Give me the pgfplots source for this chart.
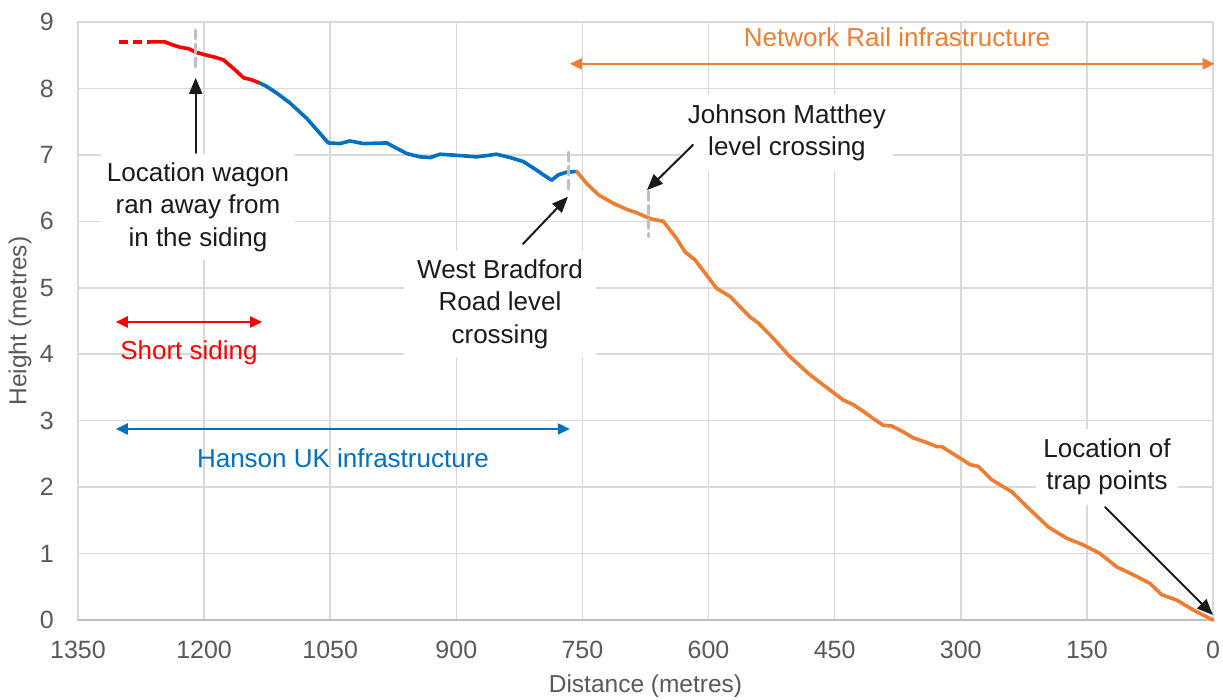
\documentclass[border=0pt]{standalone}
\usepackage{fontspec}
\setmainfont{Liberation Sans}
\usepackage{pgfplots}
\pgfplotsset{compat=1.18}
\usepackage{pgfplotstable}
\usetikzlibrary{arrows.meta}
\definecolor{cRed}{HTML}{FF0000}
\definecolor{cBlue}{HTML}{0070C0}
\definecolor{cOrange}{HTML}{ED7D31}
\definecolor{cGrid}{HTML}{D9D9D9}
\definecolor{cAxis}{HTML}{BFBFBF}
\definecolor{cTick}{HTML}{595959}
\definecolor{cDash}{HTML}{BFBFBF}
\definecolor{cText}{HTML}{1A1A1A}

\pgfplotstableread{
x y
1301 8.70
1264 8.70
}\reddashed
\pgfplotstableread{
x y
1264 8.70
1246.5 8.70
1238.6 8.66
1228.7 8.62
1218.8 8.60
1208.8 8.54
1197 8.50
1187 8.47
1177 8.43
1165 8.30
1153 8.16
1143.4 8.13
1133.5 8.08
}\redsolid
\pgfplotstableread{
x y
1133.5 8.08
1125.6 8.03
1113.6 7.93
1097.8 7.78
1078 7.55
1064 7.35
1052.3 7.18
1038.4 7.17
1026.5 7.21
1010.6 7.17
982.8 7.18
971 7.10
959 7.02
943 6.97
931 6.96
919.4 7.01
895.6 6.99
875.8 6.97
852 7.01
836 6.96
820.3 6.90
804.4 6.77
796.5 6.70
786.6 6.62
778.7 6.70
768.7 6.74
756.8 6.75
}\blue
\pgfplotstableread{
x y
756.8 6.75
745 6.57
731 6.40
713.2 6.27
695.4 6.17
685.4 6.13
669.6 6.04
653.8 6.00
637.9 5.74
628 5.54
616.1 5.42
602.3 5.19
590.3 4.99
574.5 4.87
550.7 4.56
540.8 4.47
523 4.24
503 3.96
479.3 3.69
455.5 3.46
439.7 3.31
427.8 3.24
415.9 3.14
404 3.03
392.1 2.93
382.1 2.92
368.3 2.83
356.4 2.74
342.5 2.68
328.6 2.61
322.7 2.61
308.9 2.50
289 2.34
279.1 2.31
263.2 2.11
239.4 1.93
217.6 1.66
195.9 1.40
174 1.23
154.2 1.13
134.4 1.00
114.6 0.80
94.7 0.68
74.9 0.55
61 0.38
43.2 0.30
23.4 0.15
0 0.0
}\orange

\newcommand\annfont{\fontsize{26bp}{32.5bp}\selectfont}

\begin{document}
\begin{tikzpicture}
\begin{axis}[
  name=ax,
  scale only axis,
  width=1135bp, height=598bp,
  xmin=0, xmax=1350, ymin=0, ymax=9,
  x dir=reverse,
  xtick={0,150,...,1350}, ytick={0,1,...,9},
  grid=major,
  major grid style={cGrid, line width=1.5bp},
  axis x line*=bottom, axis y line*=left,
  x axis line style={cAxis, line width=1.6bp},
  y axis line style={draw=none},
  tick style={draw=none},
  /pgf/number format/assume math mode=true,
  /pgf/number format/1000 sep={},
  tick label style={font=\fontsize{25bp}{29bp}\selectfont, text=cTick},
  xticklabel style={anchor=north, inner sep=0pt, yshift=-21bp},
  yticklabel style={anchor=east, inner sep=0pt, xshift=-24bp},
  xlabel={Distance (metres)},
  ylabel={Height (metres)},
  label style={font=\fontsize{24.5bp}{28bp}\selectfont, text=cTick},
  xlabel style={at={(axis description cs:0.5,-0.1104)}, anchor=center},
  ylabel style={at={(axis description cs:-0.0511,0.5)}, anchor=center},
  clip=false,
  line join=round, line cap=round,
]
\addplot[cRed, line width=3.6bp, line cap=butt, dash pattern=on 9bp off 5bp] table {\reddashed};
\addplot[cRed, line width=3.6bp] table {\redsolid};
\addplot[cBlue, line width=3.6bp] table {\blue};
\addplot[cOrange, line width=3.6bp] table {\orange};

% grey dashed markers
\draw[cDash, line width=3bp, dash pattern=on 9bp off 5bp] (axis cs:1210,8.88) -- (axis cs:1210,8.25);
\draw[cDash, line width=3bp, dash pattern=on 9bp off 5bp] (axis cs:766,7.04) -- (axis cs:766,6.43);
\draw[cDash, line width=3bp, dash pattern=on 9bp off 5bp] (axis cs:671,6.45) -- (axis cs:671,5.77);

% coloured range arrows
\draw[cOrange, line width=2bp, {Triangle[length=12bp,width=11bp]}-{Triangle[length=12bp,width=11bp]}] (axis cs:765,8.37) -- (axis cs:-2,8.37);
\draw[cRed, line width=2bp, {Triangle[length=12bp,width=11bp]}-{Triangle[length=12bp,width=11bp]}] (axis cs:1305,4.485) -- (axis cs:1131,4.485);
\draw[cBlue, line width=2bp, {Triangle[length=12bp,width=11bp]}-{Triangle[length=12bp,width=11bp]}] (axis cs:1305,2.875) -- (axis cs:765,2.875);

\node[font=\annfont, text=cOrange] at (axis cs:375.8,8.775) {Network Rail infrastructure};
\node[font=\annfont, text=cRed] at (axis cs:1218,4.02) {Short siding};
\node[font=\annfont, text=cBlue] at (axis cs:1034.8,2.438) {Hanson UK infrastructure};

% annotation boxes
\node[fill=white, align=center, font=\annfont, text=cText, inner xsep=6bp, inner ysep=8bp] at (axis cs:1207.3,6.216) {Location wagon\\ran away from\\in the siding};
\node[fill=white, align=center, font=\annfont, text=cText, inner xsep=6bp, inner ysep=8bp, minimum width=192bp] at (axis cs:848,4.756) {West Bradford\\Road level\\crossing};
\node[fill=white, align=center, font=\annfont, text=cText, inner xsep=7bp, inner ysep=10bp] at (axis cs:506.7,7.33) {Johnson Matthey\\level crossing};
\node[fill=white, align=center, font=\annfont, text=cText, inner xsep=7bp, inner ysep=10bp] at (axis cs:126,2.303) {Location of\\trap points};

% black arrows
\draw[cText, line width=2bp, -{Triangle[length=16bp,width=13bp]}] (axis cs:1210,7.03) -- (axis cs:1210,8.16);
\draw[cText, line width=2bp, -{Triangle[length=16bp,width=13bp]}] (axis cs:820.7,5.66) -- (axis cs:767.2,6.37);
\draw[cText, line width=2bp, -{Triangle[length=16bp,width=13bp]}] (axis cs:618.5,7.15) -- (axis cs:673.2,6.47);
\draw[cText, line width=2bp, -{Triangle[length=16bp,width=13bp]}] (axis cs:128.4,1.70) -- (axis cs:0,0.075);
\end{axis}
\pgfresetboundingbox
\path[use as bounding box] ([shift={(-78bp,-80bp)}]ax.south west) rectangle ++(1223bp,700bp);
\end{tikzpicture}
\end{document}
